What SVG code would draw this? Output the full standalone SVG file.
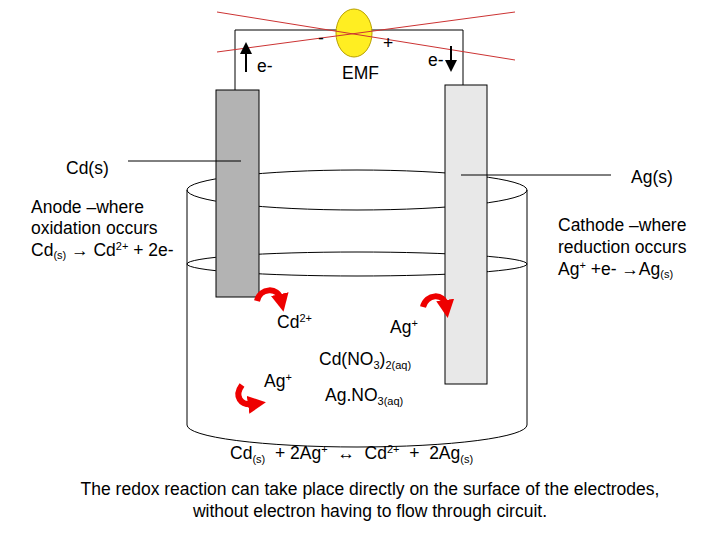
<svg xmlns="http://www.w3.org/2000/svg" width="720" height="540" viewBox="0 0 720 540">
<style>
text{font-family:"Liberation Sans",Arial,sans-serif;font-size:17.5px;fill:#000}
.l{stroke:#000;stroke-width:1;fill:none}
.r{fill:none;stroke:#e00;stroke-width:6}
</style>
<defs>
<marker id="a" markerWidth="6" markerHeight="6" refX="3" refY="3" orient="auto"><path d="M0,0L6,3L0,6z" fill="#000"/></marker>
<marker id="ra" markerWidth="3" markerHeight="3" refX="1" refY="1.5" orient="auto" markerUnits="strokeWidth"><path d="M0,0L3,1.5L0,3z" fill="#e00"/></marker>
</defs>
<rect width="720" height="540" fill="#fff"/>
<g id="beaker">
<path class="l" d="M187,190 V425 A170,22 0 0 0 527,425 V190"/>
<ellipse class="l" cx="357" cy="190" rx="170" ry="20"/>
<ellipse class="l" cx="357" cy="264" rx="170" ry="12"/>
</g>
<g id="circuit">
<path class="l" d="M235,90 V30 H463 V85"/>
<ellipse cx="354" cy="33" rx="18" ry="24" fill="#ffee22" stroke="#b8a000"/>
<line x1="217" y1="12" x2="515" y2="60" stroke="#c33" stroke-width="1"/>
<line x1="217" y1="52" x2="515" y2="12" stroke="#c33" stroke-width="1"/>
<text x="318" y="44" font-size="14">-</text>
<text x="383" y="49">+</text>
<line x1="246" y1="72" x2="246" y2="48" stroke="#000" stroke-width="2" marker-end="url(#a)"/>
<line x1="451" y1="46" x2="451" y2="66" stroke="#000" stroke-width="2" marker-end="url(#a)"/>
<text x="257" y="72">e-</text>
<text x="428" y="66">e-</text>
<text x="342" y="79">EMF</text>
</g>
<g id="cd-electrode"><rect x="216" y="90" width="43" height="207" fill="#b3b3b3" stroke="#000"/></g>
<g id="ag-electrode"><rect x="445" y="85" width="42" height="299" fill="#e8e8e8" stroke="#000"/></g>
<g id="connectors">
<line class="l" x1="128" y1="161" x2="241" y2="161"/>
<line class="l" x1="461" y1="175" x2="611" y2="175"/>
<path class="r" d="M257,301 C260,288 278,286 281,300" marker-end="url(#ra)"/>
<path class="r" d="M423,307 C426,294 444,292 446,306" marker-end="url(#ra)"/>
<path class="r" d="M242,385 C234,396 240,406 254,404" marker-end="url(#ra)"/>
</g>
<g id="labels">
<text x="66" y="174">Cd(s)</text>
<text x="631" y="183">Ag(s)</text>
<text x="31" y="213">Anode –where</text>
<text x="31" y="234">oxidation occurs</text>
<text x="31" y="256">Cd<tspan font-size="11" dy="3">(s)</tspan><tspan dy="-3"> → Cd</tspan><tspan font-size="11" dy="-6">2+</tspan><tspan dy="6"> + 2e-</tspan></text>
<text x="558" y="231">Cathode –where</text>
<text x="558" y="253">reduction occurs</text>
<text x="558" y="275">Ag<tspan font-size="11" dy="-6">+</tspan><tspan dy="6"> +e- →Ag</tspan><tspan font-size="11" dy="3">(s)</tspan></text>
<text x="277" y="328">Cd<tspan font-size="11" dy="-6">2+</tspan></text>
<text x="390" y="333">Ag<tspan font-size="11" dy="-6">+</tspan></text>
<text x="319" y="365">Cd(NO<tspan font-size="11" dy="4">3</tspan><tspan dy="-4">)</tspan><tspan font-size="11" dy="4">2(aq)</tspan></text>
<text x="264" y="387">Ag<tspan font-size="11" dy="-6">+</tspan></text>
<text x="325" y="401">Ag.NO<tspan font-size="11" dy="4">3(aq)</tspan></text>
<text x="230" y="459">Cd<tspan font-size="11" dy="4">(s)</tspan><tspan dy="-4" xml:space="preserve">  + 2Ag</tspan><tspan font-size="11" dy="-6">+</tspan><tspan dy="6" xml:space="preserve">  ↔  Cd</tspan><tspan font-size="11" dy="-6">2+</tspan><tspan dy="6" xml:space="preserve">  +  2Ag</tspan><tspan font-size="11" dy="4">(s)</tspan></text>
<text x="370" y="495" text-anchor="middle">The redox reaction can take place directly on the surface of the electrodes,</text>
<text x="370" y="517" text-anchor="middle">without electron having to flow through circuit.</text>
</g>
</svg>
